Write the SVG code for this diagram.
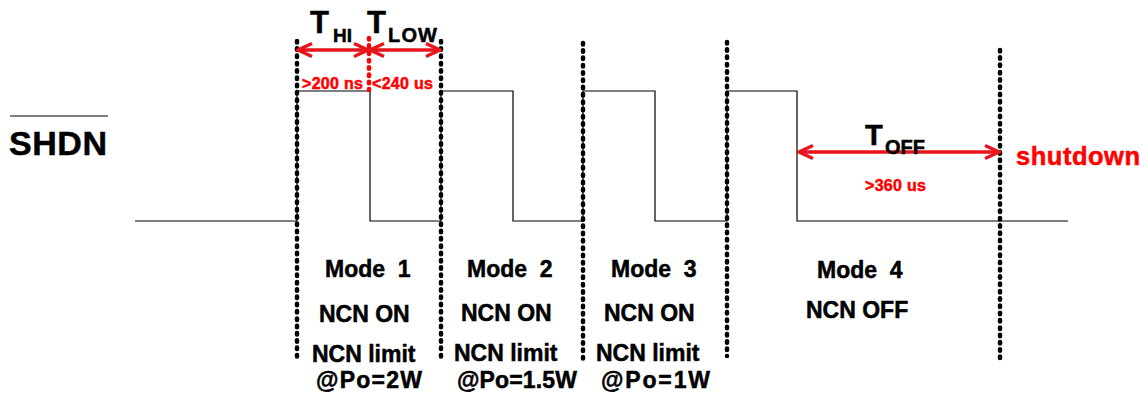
<svg xmlns="http://www.w3.org/2000/svg" width="1148" height="394" viewBox="0 0 1148 394">
<style>
text{font-family:"Liberation Sans",Arial,sans-serif;font-weight:bold;white-space:pre;stroke:#000;stroke-width:0.5}
.lbl{font-size:23px;fill:#000}
.red{fill:#f00;stroke:#f00}
.dot{fill:none;stroke:#000;stroke-width:4.5;stroke-linecap:round;stroke-dasharray:1.5 5.8}
.dotr{fill:none;stroke:#f00;stroke-width:4.5;stroke-linecap:round;stroke-dasharray:1.5 5.8}
.arr{fill:none;stroke:#e8141c;stroke-width:3.4;marker-start:url(#ah);marker-end:url(#ah)}
.wave{fill:none;stroke:#000;stroke-width:1.2}
</style>
<defs>
<marker id="ah" viewBox="-17 -9 19 18" refX="0" refY="0" markerWidth="19" markerHeight="18" markerUnits="userSpaceOnUse" orient="auto-start-reverse">
<path d="M-14,-6.5 L0,0 L-14,6.5" fill="none" stroke="#e8141c" stroke-width="3.4"/>
</marker>
</defs>
<rect width="1148" height="394" fill="#fff"/>
<g id="signal">
<line x1="10" y1="116" x2="108" y2="116" stroke="#000" stroke-width="1.2"/>
<text x="9" y="155" font-size="34" textLength="98">SHDN</text>
</g>
<g id="connectors">
<path class="wave" d="M135,221 H297 V91 H370 V221 H441 V91 H513 V221 H583 V91 H655 V221 H727 V91 H797 V221 H1068"/>
<line class="dot" x1="297" y1="41" x2="297" y2="360"/>
<line class="dot" x1="441" y1="41" x2="441" y2="358"/>
<line class="dot" x1="583" y1="43" x2="583" y2="360"/>
<line class="dot" x1="727" y1="42" x2="727" y2="356"/>
<line class="dot" x1="1000" y1="50" x2="1000" y2="358"/>
<line class="dotr" x1="369" y1="38" x2="369" y2="90"/>
<line class="arr" x1="298" y1="50" x2="368" y2="50"/>
<line class="arr" x1="370" y1="50" x2="440" y2="50"/>
<line class="arr" x1="799" y1="152" x2="999" y2="152"/>
</g>
<g id="timing">
<text x="310" y="33" font-size="31">T</text>
<text x="333" y="42" font-size="19">HI</text>
<text x="367" y="33" font-size="31">T</text>
<text x="388" y="42" font-size="20" textLength="49">LOW</text>
<text class="red" x="302" y="89" font-size="16" textLength="61">&gt;200 ns</text>
<text class="red" x="372" y="89" font-size="16" textLength="61">&lt;240 us</text>
<text x="865" y="145" font-size="29">T</text>
<text x="885" y="154" font-size="20">OFF</text>
<text class="red" x="865" y="191" font-size="16" textLength="61">&gt;360 us</text>
<text class="red" x="1016" y="165" font-size="25.5" textLength="124">shutdown</text>
</g>
<g id="mode1">
<text class="lbl" x="325" y="277">Mode  1</text>
<text class="lbl" x="319" y="322">NCN ON</text>
<text class="lbl" x="312" y="362">NCN limit</text>
<text class="lbl" x="316" y="388" textLength="106">@Po=2W</text>
</g>
<g id="mode2">
<text class="lbl" x="467" y="277">Mode  2</text>
<text class="lbl" x="461" y="321">NCN ON</text>
<text class="lbl" x="454" y="361">NCN limit</text>
<text class="lbl" x="457" y="388" textLength="120">@Po=1.5W</text>
</g>
<g id="mode3">
<text class="lbl" x="611" y="277">Mode  3</text>
<text class="lbl" x="604" y="321">NCN ON</text>
<text class="lbl" x="596" y="361">NCN limit</text>
<text class="lbl" x="601" y="388" textLength="109">@Po=1W</text>
</g>
<g id="mode4">
<text class="lbl" x="817" y="278">Mode  4</text>
<text class="lbl" x="806" y="318">NCN OFF</text>
</g>
</svg>
